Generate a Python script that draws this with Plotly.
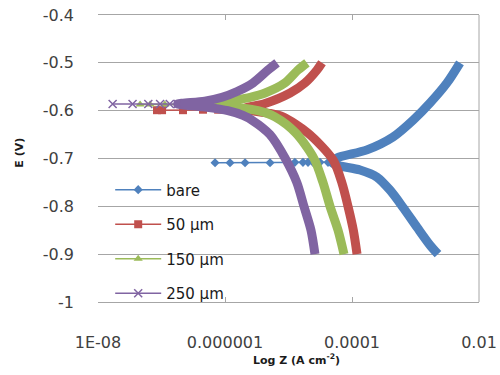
import plotly.graph_objects as go

# ---------------- data ----------------
x_tick_vals = [1e-8, 1e-6, 1e-4, 1e-2]
x_tick_text = ["1E-08", "0.000001", "0.0001", "0.01"]
y_tick_vals = [-1.0, -0.9, -0.8, -0.7, -0.6, -0.5, -0.4]
y_tick_text = ["-1", "-0.9", "-0.8", "-0.7", "-0.6", "-0.5", "-0.4"]

series_names = ["bare", "50 µm", "150 µm", "250 µm"]

# dense polarisation branches (cathodic from -0.9 V up to Ecorr, then anodic up to -0.5 V)
bare_branch_E = [-0.900, -0.881, -0.844, -0.802, -0.766, -0.739, -0.724, -0.714, -0.708,
                 -0.699, -0.682, -0.655, -0.620, -0.584, -0.542, -0.500]
bare_branch_I = [2.26e-3, 1.69e-3, 1.06e-3, 6.35e-4, 3.96e-4, 2.48e-4, 1.34e-4, 5.8e-5, 4.8e-5,
                 5.8e-5, 1.72e-4, 4.43e-4, 9.14e-4, 1.69e-3, 3.13e-3, 5.02e-3]

um50_branch_E = [-0.900, -0.850, -0.800, -0.752, -0.703, -0.647, -0.613, -0.605, -0.598,
                 -0.595, -0.585, -0.563, -0.542, -0.515, -0.500]
um50_branch_I = [1.2e-4, 1.05e-4, 8.65e-5, 6.97e-5, 5.03e-5, 2.03e-5, 8.18e-6, 4.75e-6, 2.2e-6,
                 2.07e-6, 4.27e-6, 1.06e-5, 1.82e-5, 2.81e-5, 3.37e-5]

um150_branch_E = [-0.900, -0.850, -0.800, -0.750, -0.700, -0.647, -0.613, -0.600, -0.593,
                  -0.587, -0.580, -0.572, -0.563, -0.542, -0.515, -0.500]
um150_branch_I = [7.48e-5, 6.03e-5, 4.51e-5, 3.49e-5, 2.52e-5, 1.31e-5, 6.12e-6, 3.31e-6, 1.5e-6,
                  6.5e-7, 1.2e-6, 2.48e-6, 4.27e-6, 8.8e-6, 1.41e-5, 1.95e-5]

um250_branch_E = [-0.900, -0.850, -0.800, -0.750, -0.700, -0.650, -0.620, -0.610, -0.600,
                  -0.592, -0.586, -0.580, -0.572, -0.560, -0.542, -0.515, -0.500]
um250_branch_I = [2.61e-5, 2.26e-5, 1.75e-5, 1.35e-5, 8.9e-6, 5.1e-6, 2.66e-6, 1.92e-6, 1.11e-6,
                  4.5e-7, 1.8e-7, 4.8e-7, 8.97e-7, 1.55e-6, 2.76e-6, 4.75e-6, 6.6e-6]

# sparse points around the corrosion potential
bare_flat_E = [-0.709, -0.709, -0.709, -0.709, -0.708, -0.708, -0.708, -0.708, -0.708, -0.708]
bare_flat_I = [6.97e-7, 1.2e-6, 2.07e-6, 5.12e-6, 1.26e-5, 1.69e-5, 2.03e-5, 2.43e-5, 3.13e-5, 4.19e-5]

um50_flat_E = [-0.599, -0.599, -0.599, -0.598, -0.598, -0.598, -0.598]
um50_flat_I = [8.5e-8, 1.02e-7, 2.18e-7, 4.5e-7, 7.8e-7, 1.2e-6, 1.72e-6]

um150_flat_E = [-0.587, -0.587, -0.587, -0.587, -0.587, -0.587]
um150_flat_I = [4.6e-8, 6.6e-8, 1.13e-7, 1.95e-7, 3.4e-7, 5.8e-7]

um250_flat_E = [-0.586, -0.586, -0.586, -0.586, -0.586, -0.586]
um250_flat_I = [1.7e-8, 3.5e-8, 6.2e-8, 9.5e-8, 1.35e-7, 1.8e-7]

# ---------------- styling ----------------
colors = ["#4F81BD", "#C0504D", "#9BBB59", "#8064A2"]
symbols = ["diamond", "square", "triangle-up", "x-thin"]
msizes = [7, 8, 8, 8]
branches = [(bare_branch_I, bare_branch_E), (um50_branch_I, um50_branch_E),
            (um150_branch_I, um150_branch_E), (um250_branch_I, um250_branch_E)]
flats = [(bare_flat_I, bare_flat_E), (um50_flat_I, um50_flat_E),
         (um150_flat_I, um150_flat_E), (um250_flat_I, um250_flat_E)]

GRID = "#A6A6A6"
FONT = "DejaVu Sans"

fig = go.Figure()
for i, name in enumerate(series_names):
    bx, by = branches[i]
    fx, fy = flats[i]
    fig.add_trace(go.Scatter(
        x=bx, y=by, mode="lines", line=dict(color=colors[i], width=9, shape="spline", smoothing=0.8),
        legendgroup=name, showlegend=False, hoverinfo="skip"))
    mk = dict(symbol=symbols[i], size=msizes[i], color=colors[i])
    if symbols[i] == "x-thin":
        mk["line"] = dict(color=colors[i], width=1.5)
    fig.add_trace(go.Scatter(
        x=fx, y=fy, mode="lines+markers", name=name, legendgroup=name,
        line=dict(color=colors[i], width=1.5), marker=mk))

fig.update_layout(
    width=500, height=375,
    margin=dict(l=98, r=21, t=15, b=73),
    paper_bgcolor="white", plot_bgcolor="white",
    font=dict(family=FONT, color="#404040"),
    showlegend=True,
    legend=dict(x=0.032, y=0.448, xanchor="left", yanchor="top",
                bgcolor="rgba(0,0,0,0)", font=dict(family=FONT, size=15, color="#1a1a1a"),
                tracegroupgap=12, itemwidth=46),
    xaxis=dict(type="log", range=[-8, -2], tickvals=x_tick_vals, ticktext=x_tick_text,
               showgrid=False, zeroline=False, showline=True, linecolor=GRID, linewidth=1,
               mirror="ticks", ticks="inside", ticklen=5, tickcolor=GRID, tickwidth=1,
               automargin=False, ticklabeloverflow="allow",
               tickfont=dict(family=FONT, size=16, color="#404040"),
               ticklabelstandoff=26),
    yaxis=dict(range=[-1, -0.4], tickvals=y_tick_vals, ticktext=y_tick_text,
               showgrid=True, gridcolor=GRID, gridwidth=1, zeroline=False, showline=False,
               ticks="", automargin=False, ticklabeloverflow="allow",
               tickfont=dict(family=FONT, size=16, color="#404040"),
               ticklabelstandoff=23),
    shapes=[dict(type="line", xref="paper", yref="paper", x0=1, x1=1, y0=0, y1=1,
                 line=dict(color=GRID, width=1))],
    annotations=[
        dict(text="<b>E (V)</b>", xref="paper", yref="paper", x=-0.205, y=0.52,
             textangle=-90, showarrow=False, xanchor="center", yanchor="middle",
             font=dict(family=FONT, size=11, color="#1a1a1a")),
        dict(text="<b>Log Z (A cm<sup>-2</sup>)</b>", xref="paper", yref="paper", x=0.52, y=-0.2,
             showarrow=False, xanchor="center", yanchor="middle",
             font=dict(family=FONT, size=11, color="#1a1a1a")),
    ],
)

# remove the browser's default 8 px body margin so the figure fills the window exactly
fig.write_html("out.html", config={"displayModeBar": False},
               post_script="document.body.style.margin='0px';")
